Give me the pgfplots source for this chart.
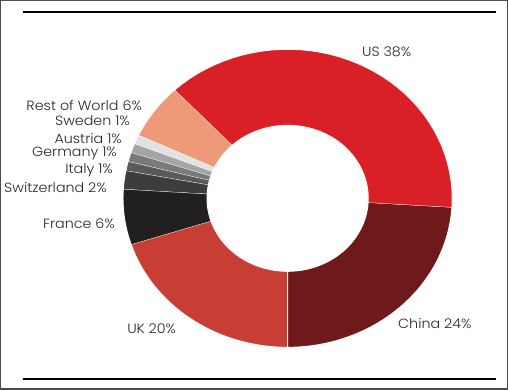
\documentclass[border=0pt]{standalone}
\usepackage{pgfplots}
\pgfplotsset{compat=1.18}
\usepackage{graphicx}
\usepackage{fontspec}
\setmainfont{Poppins}[UprightFont={* Light}]
\definecolor{cUS}{HTML}{D92027}
\definecolor{cChina}{HTML}{6E1A1A}
\definecolor{cUK}{HTML}{C83E35}
\definecolor{cFrance}{HTML}{221F20}
\definecolor{cSwitz}{HTML}{3D3D3F}
\definecolor{cItaly}{HTML}{5A5A5C}
\definecolor{cGermany}{HTML}{7A7A7C}
\definecolor{cAustria}{HTML}{A5A5A7}
\definecolor{cSweden}{HTML}{E2E2E2}
\definecolor{cRoW}{HTML}{EE9A78}
\def\cx{287}\def\cy{191}\def\rx{164}\def\ry{148.5}\def\ri{0.49}
\def\cum{270}
\newcommand\slice[2]{%
  \pgfmathsetmacro\angA{\cum}%
  \pgfmathsetmacro\angB{\cum-3.6*#1}%
  \xdef\cum{\angB}%
  \edef\tmp{\noexpand\addplot[fill=#2, draw=white, line width=0.9bp, samples at={0,...,81}]
    ({\cx+((x<40.5)?1:\ri)*\rx*cos((x<40.5)?(\angA+(\angB-\angA)*x/40):(\angB+(\angA-\angB)*(x-41)/40))},
     {\cy+((x<40.5)?1:\ri)*\ry*sin((x<40.5)?(\angA+(\angB-\angA)*x/40):(\angB+(\angA-\angB)*(x-41)/40))});}%
  \tmp}
\tikzset{lab/.style={font=\fontsize{13.3bp}{15bp}\selectfont, text=black!85, inner sep=0pt}}
\newcommand\wt[1]{\scalebox{1.07}[1]{#1}}
\begin{document}
\fontsize{13.3bp}{15bp}\selectfont
\begin{tikzpicture}
\begin{axis}[scale only axis, width=508bp, height=389bp,
  xmin=0, xmax=508, ymin=0, ymax=389, hide axis, clip=false]
% values in percent, clockwise from the bottom
\slice{20}{cUK}
\slice{6}{cFrance}
\slice{2}{cSwitz}
\slice{1}{cItaly}
\slice{1}{cGermany}
\slice{1}{cAustria}
\slice{1}{cSweden}
\slice{6}{cRoW}
\slice{38}{cUS}
\slice{24}{cChina}
\draw[black!70, line width=1.2bp] (axis cs:1,1) rectangle (axis cs:506,388);
\draw[black, line width=2bp] (axis cs:23,376.3) -- (axis cs:495,376.3);
\draw[black, line width=2bp] (axis cs:23,11) -- (axis cs:495,11);
\node[lab, anchor=west] at (axis cs:361,337) {\wt{US 38\%}};
\node[lab, anchor=east] at (axis cs:142,283) {\wt{Rest of World 6\%}};
\node[lab, anchor=east] at (axis cs:130,268) {\wt{Sweden 1\%}};
\node[lab, anchor=east] at (axis cs:122,251) {\wt{Austria 1\%}};
\node[lab, anchor=east] at (axis cs:117,236) {\wt{Germany 1\%}};
\node[lab, anchor=east] at (axis cs:113,219) {\wt{Italy 1\%}};
\node[lab, anchor=east] at (axis cs:107,202) {\wt{Switzerland 2\%}};
\node[lab, anchor=east] at (axis cs:115,166) {\wt{France 6\%}};
\node[lab, anchor=west] at (axis cs:127,61) {\wt{UK 20\%}};
\node[lab, anchor=west] at (axis cs:397,66) {\wt{China 24\%}};
\end{axis}
\end{tikzpicture}
\end{document}
